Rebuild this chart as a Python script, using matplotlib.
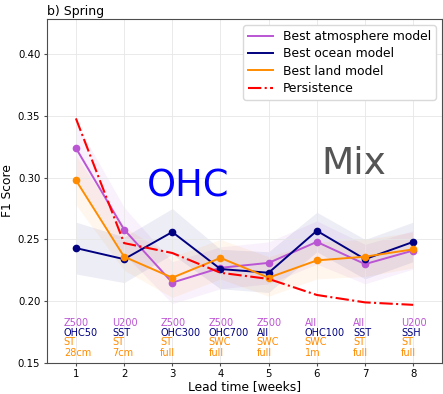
import matplotlib
matplotlib.use("Agg")
import matplotlib.pyplot as plt

weeks = [1, 2, 3, 4, 5, 6, 7, 8]

# F1 scores
atmos = [0.324, 0.258, 0.215, 0.227, 0.231, 0.248, 0.230, 0.241]
ocean = [0.243, 0.234, 0.256, 0.226, 0.223, 0.257, 0.234, 0.248]
land = [0.298, 0.236, 0.219, 0.235, 0.219, 0.233, 0.236, 0.242]
persistence = [0.348, 0.247, 0.239, 0.223, 0.218, 0.205, 0.199, 0.197]

# spread bands (estimated)
atmos_lo = [0.300, 0.238, 0.198, 0.210, 0.214, 0.230, 0.214, 0.226]
atmos_hi = [0.345, 0.276, 0.232, 0.244, 0.248, 0.265, 0.246, 0.257]
ocean_lo = [0.222, 0.215, 0.238, 0.210, 0.207, 0.240, 0.218, 0.232]
ocean_hi = [0.264, 0.252, 0.275, 0.242, 0.240, 0.272, 0.250, 0.264]
land_lo = [0.278, 0.225, 0.203, 0.218, 0.204, 0.218, 0.220, 0.227]
land_hi = [0.318, 0.260, 0.236, 0.250, 0.236, 0.248, 0.250, 0.256]

# best predictor labels per lead time
atmos_var = ["Z500", "U200", "Z500", "Z500", "Z500", "All", "All", "U200"]
ocean_var = ["OHC50", "SST", "OHC300", "OHC700", "All", "OHC100", "SST", "SSH"]
land_var = ["ST", "ST", "ST", "SWC", "SWC", "SWC", "ST", "ST"]
land_depth = ["28cm", "7cm", "full", "full", "full", "1m", "full", "full"]

C_ATM = "mediumorchid"
C_OCN = "navy"
C_LND = "darkorange"


def main():
    fig = plt.figure(figsize=(4.43, 3.94), dpi=100)
    ax = fig.add_axes([0.105, 0.079, 0.893, 0.873])

    ax.fill_between(weeks, atmos_lo, atmos_hi, color=C_ATM, alpha=0.08, lw=0)
    ax.fill_between(weeks, ocean_lo, ocean_hi, color=C_OCN, alpha=0.07, lw=0)
    ax.fill_between(weeks, land_lo, land_hi, color=C_LND, alpha=0.07, lw=0)

    for ys, c, lab in [(atmos, C_ATM, "Best atmosphere model"),
                       (ocean, C_OCN, "Best ocean model"),
                       (land, C_LND, "Best land model")]:
        ax.plot(weeks, ys, color=c, lw=1.4, label=lab)
        ax.plot(weeks, ys, color=c, ls="none", marker="o", ms=4.5)
    ax.plot(weeks, persistence, color="red", lw=1.5, ls="-.", label="Persistence")

    for i, w in enumerate(weeks):
        x0 = w - 0.25
        ax.text(x0, 0.1824, atmos_var[i], color=C_ATM, fontsize=7, va="center", ha="left")
        ax.text(x0, 0.1738, ocean_var[i], color=C_OCN, fontsize=7, va="center", ha="left")
        ax.text(x0, 0.1666, land_var[i], color=C_LND, fontsize=7, va="center", ha="left")
        ax.text(x0, 0.1581, land_depth[i], color=C_LND, fontsize=7, va="center", ha="left")

    ax.text(2.47, 0.2848, "OHC", color="blue", fontsize=26.5, ha="left", va="baseline")
    ax.text(6.1, 0.3032, "Mix", color="#555555", fontsize=27, ha="left", va="baseline")

    ax.set_xlim(0.39, 8.6)
    ax.set_ylim(0.15, 0.4286)
    ax.set_xticks(weeks)
    ax.set_yticks([0.15, 0.20, 0.25, 0.30, 0.35, 0.40])
    ax.tick_params(labelsize=7.3, length=2.5, pad=2, color="0.3")
    ax.grid(True, color="0.9", lw=0.6)
    for s in ax.spines.values():
        s.set_color("0.3")

    ax.set_xlabel("Lead time [weeks]", fontsize=8.8, labelpad=1)
    ax.set_ylabel("F1 Score", fontsize=8.8, labelpad=3)
    ax.set_title("b) Spring", loc="left", fontsize=9, pad=3)
    ax.legend(loc="upper right", fontsize=8.9, handlelength=2.0, labelspacing=0.35,
              framealpha=1, edgecolor="0.85")

    fig.savefig("out.png", dpi=100)


if __name__ == "__main__":
    main()
